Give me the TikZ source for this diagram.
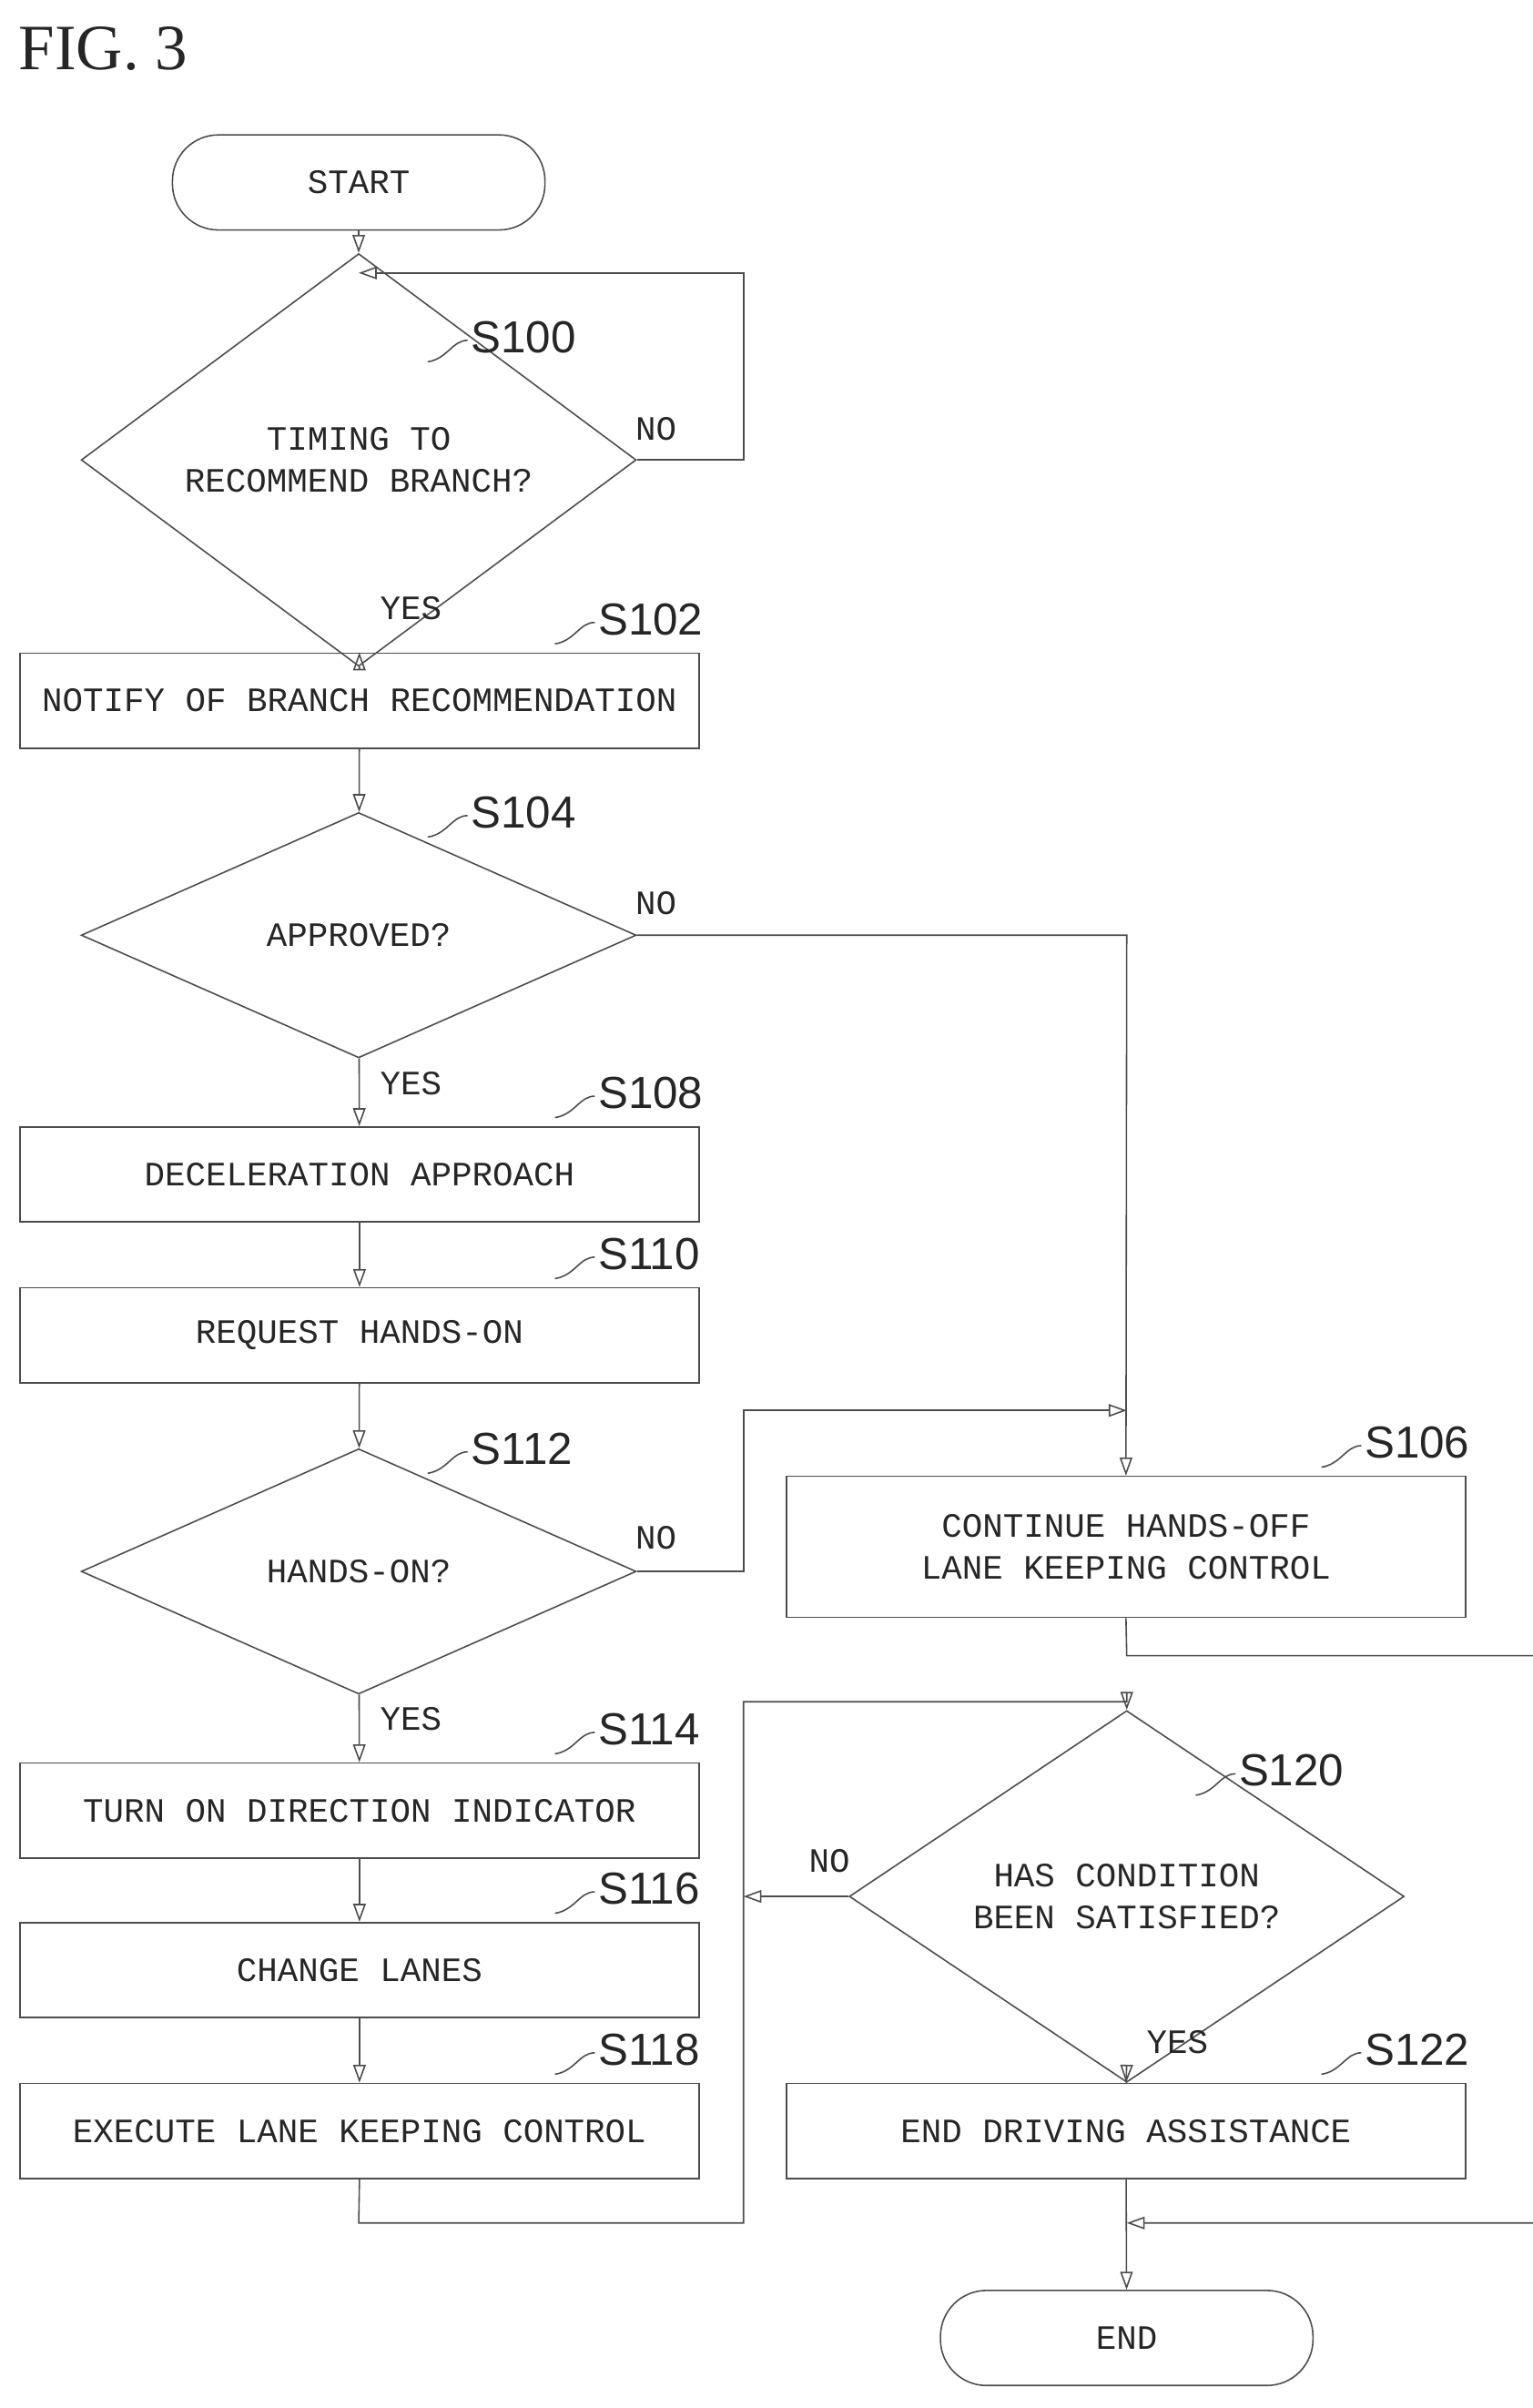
\documentclass[tikz,border=0pt]{standalone}
\usepackage{fontspec}
\setmainfont{Liberation Serif}
\newfontfamily\monof{Liberation Mono}
\newfontfamily\labf{Liberation Sans}
\usetikzlibrary{shapes.geometric,arrows.meta}
\begin{document}
\begin{tikzpicture}[x=0.03cm,y=-0.03cm,
  every node/.style={font=\monof\fontsize{19}{23}\selectfont, align=center, text=black!85},
  box/.style={draw=black!70, line width=0.8pt, minimum width=13.29cm, minimum height=1.86cm, inner sep=0},
  dia/.style={draw=black!70, line width=0.8pt, diamond, minimum width=10.86cm, minimum height=4.8cm, inner sep=0},
  term/.style={draw=black!70, line width=0.8pt, rounded corners=0.9cm, minimum width=7.29cm, minimum height=1.86cm, inner sep=0},
  ln/.style={draw=black!70, line width=0.8pt},
  arr/.style={ln, -{Triangle[open,length=10pt,width=7pt]}},
  lab/.style={font=\labf\fontsize{25}{28}\selectfont, anchor=west, inner sep=0},
  yn/.style={font=\monof\fontsize{19}{23}\selectfont, inner sep=0}]
\useasboundingbox (0,0) rectangle (1000,1570.7);
\newcommand{\stl}[3]{\node[lab] at (#1,#2) {#3};\draw[ln] ({#1-28},{#2+16}) .. controls ({#1-15},{#2+14}) and ({#1-12},{#2+2}) .. ({#1-2},{#2+2});}
\node[font=\rmfamily\fontsize{36}{40}\selectfont, anchor=west, inner sep=0] (fig) at (12,32) {FIG.\ 3};

\node[term] (start) at (234,119) {START};
\node[dia] (s100) at (234,300) {TIMING TO\\RECOMMEND BRANCH?};
\node[box] (s102) at (234.5,457) {NOTIFY OF BRANCH RECOMMENDATION};
\node[dia] (s104) at (234,610) {APPROVED?};
\node[box] (s108) at (234.5,766) {DECELERATION APPROACH};
\node[box] (s110) at (234.5,871) {REQUEST HANDS-ON};
\node[dia] (s112) at (234,1025) {HANDS-ON?};
\node[box, minimum height=2.76cm] (s106) at (734.5,1009) {CONTINUE HANDS-OFF\\LANE KEEPING CONTROL};
\node[box] (s114) at (234.5,1181) {TURN ON DIRECTION INDICATOR};
\node[box] (s116) at (234.5,1285) {CHANGE LANES};
\node[box] (s118) at (234.5,1390) {EXECUTE LANE KEEPING CONTROL};
\node[dia] (s120) at (735,1237) {HAS CONDITION\\BEEN SATISFIED?};
\node[box] (s122) at (734.5,1390) {END DRIVING ASSISTANCE};
\node[term] (end) at (735,1525) {END};

\stl{307}{220}{S100}
\stl{390}{404}{S102}
\stl{307}{530}{S104}
\stl{390}{713}{S108}
\stl{390}{818}{S110}
\stl{307}{945}{S112}
\stl{890}{941}{S106}
\stl{390}{1128}{S114}
\stl{390}{1232}{S116}
\stl{390}{1337}{S118}
\stl{808}{1155}{S120}
\stl{890}{1337}{S122}

\coordinate (j1) at (234,178);
\coordinate (j2) at (735,920);
\coordinate (j3) at (735,1450);
\coordinate (j4) at (735,1110);
\coordinate (j5) at (485,1237);

\draw[arr] (start) -- (s100);
\draw[arr] (s100.east) -- (485,300) -- (485,178) -- (j1);
\node[yn] at (428,280) {NO};
\draw[arr] (s100) -- (s102);
\node[yn] at (268,397) {YES};
\draw[arr] (s102) -- (s104);
\draw[arr] (s104.east) -- (735,610) -- (s106.north);
\node[yn] at (428,589) {NO};
\draw[arr] (s104) -- (s108);
\node[yn] at (268,707) {YES};
\draw[arr] (s108) -- (s110);
\draw[arr] (s110) -- (s112);
\draw[arr] (s112.east) -- (485,1025) -- (485,920) -- (j2);
\node[yn] at (428,1003) {NO};
\draw[arr] (s112) -- (s114);
\node[yn] at (268,1121) {YES};
\draw[arr] (s114) -- (s116);
\draw[arr] (s116) -- (s118);
\draw[arr] (s118.south) -- (234,1450) -- (485,1450) -- (485,1110) -- (j4) -- (s120.north);
\draw[arr] (s106.south) -- (735,1080) -- (1020,1080) -- (1020,1450) -- (j3);
\draw[arr] (s120.west) -- (j5);
\node[yn] at (541,1214) {NO};
\draw[arr] (s120) -- (s122);
\node[yn] at (768,1332) {YES};
\draw[arr] (s122) -- (end);
\end{tikzpicture}
\end{document}
